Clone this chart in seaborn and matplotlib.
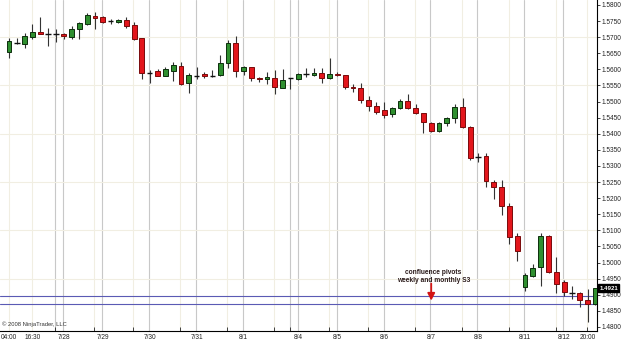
import matplotlib
matplotlib.use('Agg')
from matplotlib import pyplot as plt
from matplotlib import transforms
import numpy as np
import pandas as pd
import seaborn as sns

# 4-hour bars, 7/25 04:00 .. 8/12 20:00
opens = [1.5654, 1.5681, 1.5679, 1.5701, 1.5716, 1.5710, 1.5710, 1.5710, 1.5701, 1.5726,
         1.5741, 1.5766, 1.5763, 1.5750, 1.5747, 1.5753, 1.5738, 1.5697, 1.5589, 1.5595,
         1.5579, 1.5595, 1.5611, 1.5558, 1.5580, 1.5586, 1.5580, 1.5583, 1.5620, 1.5682,
         1.5595, 1.5607, 1.5573, 1.5570, 1.5573, 1.5542, 1.5573, 1.5570, 1.5586, 1.5583,
         1.5589, 1.5573, 1.5587, 1.5583, 1.5545, 1.5542, 1.5505, 1.5486, 1.5474, 1.5461,
         1.5480, 1.5502, 1.5480, 1.5465, 1.5434, 1.5409, 1.5434, 1.5449, 1.5483, 1.5421,
         1.5328, 1.5331, 1.5250, 1.5235, 1.5176, 1.5083, 1.4924, 1.4958, 1.4986, 1.5083,
         1.4971, 1.4939, 1.4906, 1.4906, 1.4884, 1.4871]
highs = [1.5698, 1.5698, 1.5713, 1.5741, 1.5763, 1.5729, 1.5726, 1.5713, 1.5735, 1.5747,
         1.5775, 1.5778, 1.5766, 1.5757, 1.5757, 1.5763, 1.5747, 1.5698, 1.5598, 1.5601,
         1.5607, 1.5623, 1.5623, 1.5589, 1.5607, 1.5592, 1.5598, 1.5645, 1.5691, 1.5704,
         1.5610, 1.5607, 1.5576, 1.5592, 1.5598, 1.5601, 1.5574, 1.5589, 1.5604, 1.5604,
         1.5604, 1.5636, 1.5592, 1.5583, 1.5555, 1.5558, 1.5517, 1.5499, 1.5499, 1.5483,
         1.5508, 1.5524, 1.5492, 1.5465, 1.5437, 1.5437, 1.5452, 1.5492, 1.5511, 1.5424,
         1.5340, 1.5340, 1.5256, 1.5256, 1.5185, 1.5092, 1.4968, 1.4995, 1.5092, 1.5086,
         1.5017, 1.4946, 1.4927, 1.4909, 1.4918, 1.4921]
lows = [1.5635, 1.5679, 1.5666, 1.5694, 1.5709, 1.5673, 1.5685, 1.5694, 1.5694, 1.5694,
        1.5738, 1.5726, 1.5744, 1.5741, 1.5744, 1.5729, 1.5691, 1.5570, 1.5558, 1.5578,
        1.5578, 1.5564, 1.5552, 1.5527, 1.5570, 1.5573, 1.5576, 1.5580, 1.5604, 1.5576,
        1.5583, 1.5564, 1.5561, 1.5555, 1.5523, 1.5542, 1.5539, 1.5567, 1.5576, 1.5580,
        1.5558, 1.5570, 1.5580, 1.5539, 1.5530, 1.5496, 1.5471, 1.5461, 1.5449, 1.5452,
        1.5477, 1.5477, 1.5461, 1.5403, 1.5406, 1.5406, 1.5424, 1.5434, 1.5418, 1.5319,
        1.5312, 1.5235, 1.5198, 1.5148, 1.5058, 1.5005, 1.4912, 1.4955, 1.4927, 1.4968,
        1.4906, 1.4896, 1.4887, 1.4862, 1.4816, 1.4868]
closes = [1.5688, 1.5681, 1.5704, 1.5716, 1.5710, 1.5710, 1.5710, 1.5704, 1.5726, 1.5744,
          1.5769, 1.5760, 1.5747, 1.5750, 1.5753, 1.5735, 1.5694, 1.5589, 1.5589, 1.5579,
          1.5601, 1.5614, 1.5555, 1.5583, 1.5580, 1.5580, 1.5580, 1.5620, 1.5682, 1.5595,
          1.5607, 1.5573, 1.5570, 1.5576, 1.5545, 1.5567, 1.5573, 1.5586, 1.5586, 1.5589,
          1.5573, 1.5586, 1.5583, 1.5545, 1.5541, 1.5505, 1.5486, 1.5468, 1.5458, 1.5480,
          1.5502, 1.5480, 1.5465, 1.5437, 1.5409, 1.5434, 1.5449, 1.5483, 1.5421, 1.5325,
          1.5328, 1.5253, 1.5235, 1.5176, 1.5080, 1.5036, 1.4961, 1.4983, 1.5083, 1.4971,
          1.4933, 1.4909, 1.4906, 1.4884, 1.4871, 1.4921]

date_labels = ['04:00', '16:30', '7/28', '7/29', '7/30', '7/31', '8/1', '8/4',
               '8/5', '8/6', '8/7', '8/8', '8/11', '8/12', '20:00']
date_bars = [0, 3, 7, 12, 18, 24, 30, 37, 42, 48, 54, 60, 66, 71, 75]
session_bars = [6, 11, 16, 22, 28, 34, 36, 41, 46, 52, 58, 64, 70, 74]
week_bars = [6, 36]
pivot_levels = [1.4897, 1.4872]
note_bar = 54

df = pd.DataFrame({'open': opens, 'high': highs, 'low': lows, 'close': closes})
df['bar'] = np.arange(len(df))
df['up'] = df['close'] >= df['open']
df['doji'] = (df['close'] - df['open']).abs() < 0.00008

sns.set_theme(style='white', rc={'axes.edgecolor': 'black'})
plt.rcParams['font.family'] = ['Liberation Sans', 'DejaVu Sans']

fig = plt.figure(figsize=(6.25, 3.43), dpi=100)
ax = fig.add_axes([0, 12 / 343, 597 / 625, 331 / 343])

# grid
for b in session_bars:
    ax.axvline(b - 0.1, color='#c8c8c8' if b in week_bars else '#f1eee2', lw=0.8, zorder=0)
for b in date_bars[:2]:
    ax.axvline(b, color='#f1eee2', lw=0.8, zorder=0)
for b in date_bars[2:-1]:
    ax.axvline(b - 0.1, color='#c8c8c8', lw=0.8, zorder=0)
for lvl in np.arange(1.4950, 1.5801, 0.015):
    ax.axhline(lvl, color='#f1eee2', lw=0.8, zorder=0)

# wicks
ax.vlines(df['bar'], df['low'], df['high'], color='#333333', lw=0.8, zorder=2)

# bodies
body = df[~df['doji']]
up = body[body['up']]
dn = body[~body['up']]
ax.bar(up['bar'], up['close'] - up['open'], bottom=up['open'], width=0.62,
       color='#2f8f2f', edgecolor='#0c2e0c', linewidth=0.7, zorder=3)
ax.bar(dn['bar'], dn['open'] - dn['close'], bottom=dn['close'], width=0.62,
       color='#e3161c', edgecolor='#7a0a0a', linewidth=0.7, zorder=3)
dj = df[df['doji']]
ax.hlines(dj['close'], dj['bar'] - 0.35, dj['bar'] + 0.35, color='#111111', lw=1.0, zorder=3)

# pivots
for lvl in pivot_levels:
    ax.axhline(lvl, color='#5a5ab4', lw=0.8, zorder=1)

ax.annotate('', xy=(note_bar, 1.4882), xytext=(note_bar, 1.4935),
            arrowprops=dict(arrowstyle='-|>,head_width=0.18,head_length=0.35',
                            color='#d41414', lw=1.3, shrinkA=0, shrinkB=0), zorder=5)
ax.text(note_bar + 0.3, 1.4957, 'confluence pivots\nweekly and monthly S3', ha='center',
        va='center', fontsize=4.8, fontweight='bold', color='#2b1b1b', linespacing=1.3,
        zorder=5)

ax.text(0.004, 1.4802, '\u00a9 2008 NinjaTrader, LLC', fontsize=4.2, color='#333333',
        transform=transforms.blended_transform_factory(ax.transAxes, ax.transData))

# last price box
ax.text(1.004, closes[-1], f'{closes[-1]:.4f}', fontsize=4.4, fontweight='bold',
        color='white', va='center', ha='left', zorder=6, clip_on=False,
        transform=transforms.blended_transform_factory(ax.transAxes, ax.transData),
        bbox=dict(boxstyle='square,pad=0.18', fc='black', ec='black'))

ax.set_xlim(-1.15, 75.2)
ax.set_ylim(1.47875, 1.58155)

ax.yaxis.tick_right()
ax.set_yticks(np.arange(1.4800, 1.58001, 0.005))
ax.set_yticklabels([f'{v:.4f}' for v in np.arange(1.4800, 1.58001, 0.005)])
ax.tick_params(axis='y', direction='out', length=2, width=0.6, pad=1,
               labelsize=4.7, colors='#222222', right=True)
ax.set_xticks(date_bars)
ax.set_xticklabels(date_labels)
ax.get_xticklabels()[-1].set_horizontalalignment('right')
ax.set_xticks([b - 0.1 for b in session_bars], minor=True)
ax.tick_params(axis='x', which='both', direction='in', length=3, width=0.6, pad=2,
               labelsize=4.7, colors='#222222', bottom=True)
ax.tick_params(axis='x', which='major', length=0)

for side in ['top', 'left']:
    ax.spines[side].set_visible(False)
for side in ['right', 'bottom']:
    ax.spines[side].set_color('black')
    ax.spines[side].set_linewidth(0.8)

fig.savefig('out.png', dpi=100)
